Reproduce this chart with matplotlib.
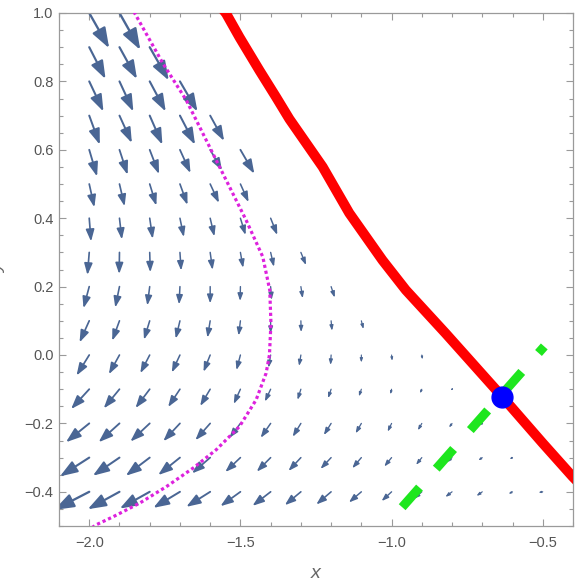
import numpy as np
import matplotlib.pyplot as plt
from matplotlib.patches import FancyArrowPatch, ArrowStyle
from matplotlib.ticker import MultipleLocator

plt.rcParams['font.family'] = ['Liberation Sans', 'DejaVu Sans']

# arrow tails sit on this grid (columns = x, rows = y, top row first)
grid_x = [-2.0, -1.9, -1.8, -1.7, -1.6, -1.5, -1.4, -1.3,
          -1.2, -1.1, -1.0, -0.9, -0.8, -0.7, -0.6, -0.5]
grid_y = [1.0, 0.9, 0.8, 0.7, 0.6, 0.5, 0.4, 0.3,
          0.2, 0.1, 0.0, -0.1, -0.2, -0.3, -0.4]

# arrow vectors (data units), only where arrows are drawn
arrow_u = [
    [0.066, 0.069],
    [0.054, 0.058, 0.063],
    [0.047, 0.046, 0.053, 0.058],
    [0.035, 0.041, 0.042, 0.050, 0.046],
    [0.026, 0.027, 0.031, 0.035, 0.039, 0.046],
    [0.017, 0.017, 0.022, 0.025, 0.029, 0.027],
    [0.006, 0.008, 0.010, 0.013, 0.014, 0.017, 0.022],
    [-0.006, -0.001, 0.002, 0.004, 0.008, 0.009, 0.011, 0.017],
    [-0.019, -0.014, -0.008, -0.003, 0.000, -0.001, 0.003, 0.006, 0.012],
    [-0.032, -0.024, -0.019, -0.014, -0.009, -0.006, 0.000, 0.001, 0.003, 0.007],
    [-0.042, -0.035, -0.031, -0.027, -0.022, -0.013, -0.007, -0.006, -0.002,
     0.000, 0.002, 0.002],
    [-0.060, -0.052, -0.047, -0.039, -0.033, -0.022, -0.019, -0.011, -0.010,
     -0.008, -0.004, -0.006, -0.002],
    [-0.077, -0.069, -0.064, -0.055, -0.049, -0.036, -0.033, -0.027, -0.024,
     -0.019, -0.013, -0.013, -0.010, -0.005],
    [-0.097, -0.088, -0.079, -0.072, -0.060, -0.050, -0.046, -0.041, -0.035,
     -0.030, -0.024, -0.019, -0.015, -0.013, -0.010],
    [-0.116, -0.105, -0.099, -0.088, -0.079, -0.066, -0.060, -0.053, -0.049,
     -0.041, -0.033, -0.025, -0.022, -0.019, -0.013, -0.014],
]
arrow_v = [
    [-0.103, -0.108],
    [-0.093, -0.093, -0.097],
    [-0.088, -0.088, -0.088, -0.088],
    [-0.085, -0.080, -0.085, -0.085, -0.074],
    [-0.078, -0.073, -0.071, -0.068, -0.060, -0.070],
    [-0.068, -0.065, -0.063, -0.061, -0.055, -0.053],
    [-0.068, -0.062, -0.060, -0.055, -0.053, -0.049, -0.049],
    [-0.066, -0.063, -0.058, -0.053, -0.051, -0.045, -0.042, -0.037],
    [-0.063, -0.061, -0.055, -0.052, -0.049, -0.042, -0.039, -0.034, -0.032],
    [-0.063, -0.058, -0.055, -0.052, -0.049, -0.043, -0.036, -0.033, -0.029, -0.024],
    [-0.060, -0.056, -0.053, -0.051, -0.049, -0.044, -0.037, -0.032, -0.029,
     -0.022, -0.017, -0.013],
    [-0.058, -0.056, -0.055, -0.052, -0.049, -0.043, -0.036, -0.031, -0.026,
     -0.021, -0.015, -0.012, -0.004],
    [-0.055, -0.055, -0.053, -0.052, -0.049, -0.042, -0.042, -0.039, -0.034,
     -0.029, -0.024, -0.020, -0.012, -0.006],
    [-0.055, -0.053, -0.053, -0.051, -0.046, -0.042, -0.041, -0.039, -0.033,
     -0.031, -0.026, -0.021, -0.013, -0.008, -0.004],
    [-0.053, -0.051, -0.049, -0.047, -0.044, -0.042, -0.041, -0.039, -0.037,
     -0.031, -0.027, -0.020, -0.015, -0.012, -0.006, -0.002],
]

# red curve
red_x = [-1.575, -1.547, -1.503, -1.437, -1.382, -1.338, -1.228, -1.140,
         -1.030, -0.953, -0.821, -0.634, -0.500, -0.402, -0.380]
red_y = [1.030, 0.998, 0.929, 0.832, 0.754, 0.690, 0.550, 0.415,
         0.277, 0.190, 0.063, -0.122, -0.258, -0.355, -0.375]

# magenta dotted curve
mag_x = [-1.860, -1.850, -1.756, -1.679, -1.613, -1.547, -1.481, -1.426,
         -1.403, -1.399, -1.404, -1.415, -1.448, -1.503, -1.580, -1.657,
         -1.745, -1.833, -1.921, -1.976, -2.000]
mag_y = [1.020, 1.000, 0.852, 0.745, 0.628, 0.511, 0.394, 0.287,
         0.190, 0.093, 0.000, -0.053, -0.131, -0.209, -0.277, -0.331,
         -0.385, -0.433, -0.473, -0.496, -0.510]

# green dashed segment and blue point
green_x = [-0.965, -0.495]
green_y = [-0.445, 0.025]
point_x = [-0.635]
point_y = [-0.122]

DPI = 100
fig = plt.figure(figsize=(5.79, 5.85), dpi=DPI)
ax = fig.add_axes([59 / 579, 1 - 526 / 585, 514 / 579, 513 / 585])
ax.set_xlim(-2.1, -0.4)
ax.set_ylim(-0.5, 1.0)

arrow_color = '#4a6694'
px_to_pt = 72 / DPI
for row, y in enumerate(grid_y):
    for col, (u, v) in enumerate(zip(arrow_u[row], arrow_v[row])):
        x = grid_x[col]
        p0 = ax.transData.transform((x, y))
        p1 = ax.transData.transform((x + u, y + v))
        length = np.hypot(*(p1 - p0))
        # head grows with the arrow, like Mathematica's scaled arrowheads
        style = ArrowStyle('-|>', head_length=0.42 * length * px_to_pt,
                           head_width=0.15 * length * px_to_pt)
        arrow = FancyArrowPatch((x, y), (x + u, y + v), arrowstyle=style,
                                mutation_scale=1, shrinkA=0, shrinkB=0,
                                lw=(0.9 + 0.035 * length) * px_to_pt,
                                color=arrow_color, zorder=2)
        ax.add_patch(arrow)

ax.plot(mag_x, mag_y, color='#dd22dd', lw=2.3, linestyle=(0, (1.0, 0.9)),
        dash_capstyle='butt', zorder=3)
ax.plot(green_x, green_y, color='#1ee61e', lw=6.5, linestyle=(0, (2.9, 2.8)),
        dash_capstyle='butt', zorder=4)
ax.plot(red_x, red_y, color='#ff0000', lw=7.2, solid_capstyle='butt',
        solid_joinstyle='round', zorder=5)
ax.plot(point_x, point_y, 'o', color='#0000ff', markersize=15, zorder=6)

# Mathematica-like frame
frame_color = '#9a9a9a'
for spine in ax.spines.values():
    spine.set_color(frame_color)
    spine.set_linewidth(0.9)
ax.xaxis.set_major_locator(MultipleLocator(0.5))
ax.xaxis.set_minor_locator(MultipleLocator(0.1))
ax.yaxis.set_major_locator(MultipleLocator(0.2))
ax.yaxis.set_minor_locator(MultipleLocator(0.05))
ax.tick_params(which='both', direction='in', top=True, right=True,
               color=frame_color, width=0.8, labelcolor='#555555',
               labelsize=10.5)
ax.tick_params(which='major', length=4.7)
ax.tick_params(which='minor', length=2.9)
ax.tick_params(axis='x', pad=7.5)
ax.tick_params(axis='y', pad=4)
ax.xaxis.set_major_formatter(plt.FuncFormatter(lambda v, p: f'{v:.1f}'.replace('-', '\u2212')))
ax.yaxis.set_major_formatter(plt.FuncFormatter(lambda v, p: f'{v:.1f}'.replace('-', '\u2212')))

fig.text(316 / 579, 1 - 574 / 585, 'x', style='italic', color='#666666',
         fontsize=14, ha='center', va='center')
fig.text(6 / 579, 1 - 268 / 585, 'y', style='italic', color='#666666',
         fontsize=14, rotation=90, ha='right', va='center')

fig.savefig('out.png', dpi=DPI)
